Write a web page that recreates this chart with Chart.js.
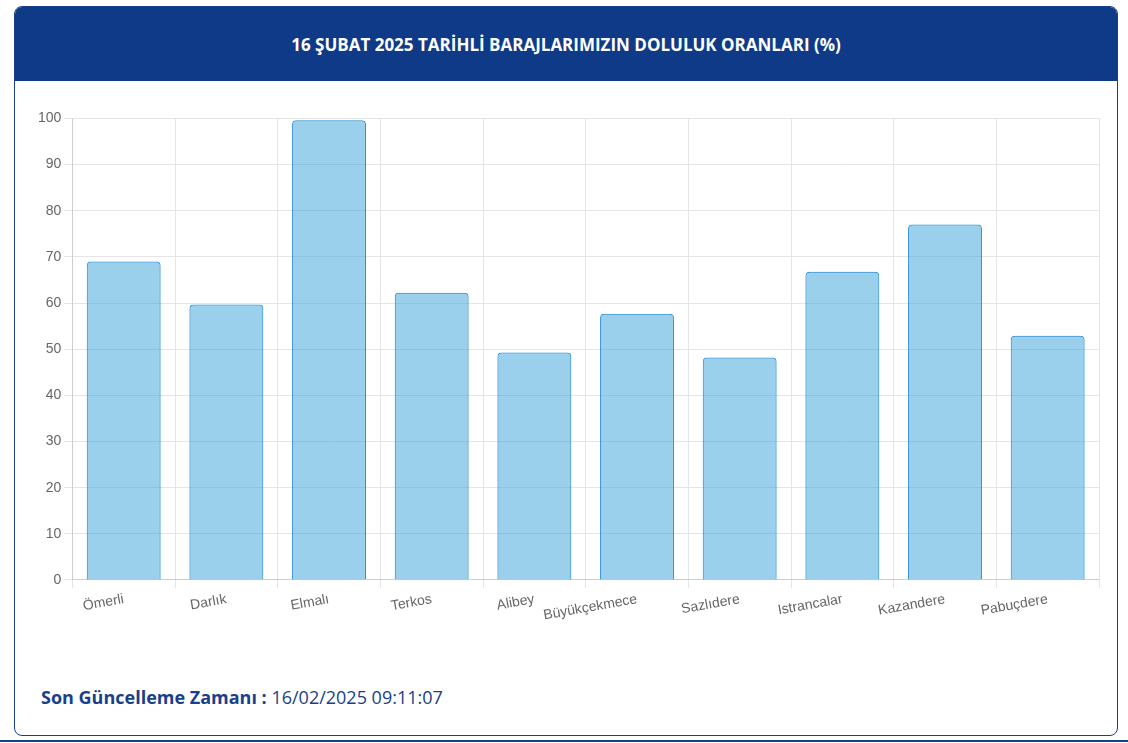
<!DOCTYPE html>
<html><head><meta charset="utf-8">
<script src="https://cdn.jsdelivr.net/npm/chart.js@4"></script>
<style>
body{margin:0;background:#fff;font-family:"Open Sans",Roboto,sans-serif;}
.card{position:absolute;left:14px;top:6px;width:1102px;height:728px;border:1px solid #1a3f8a;border-radius:8px;overflow:hidden;}
.hdr{height:74px;background:#0f3a87;color:#fff;font-weight:700;font-size:17px;display:flex;align-items:center;justify-content:center;}
.cw{position:absolute;left:20px;top:100px;width:1070px;height:520px;}
.ft{position:absolute;left:26px;top:678px;font-size:18px;color:#1a3f8a;}
.ft b{font-weight:700}
.line{position:absolute;left:0;top:740px;width:1128px;height:2px;background:#1a3f8a;}
</style></head><body>
<div class="card"><div class="hdr">16 ŞUBAT 2025 TARİHLİ BARAJLARIMIZIN DOLULUK ORANLARI (%)</div>
<div class="cw"><canvas id="c"></canvas></div>
<div class="ft"><b>Son Güncelleme Zamanı :</b> 16/02/2025 09:11:07</div></div>
<div class="line"></div>
<script>
const categories=["Ömerli","Darlık","Elmalı","Terkos","Alibey","Büyükçekmece","Sazlıdere","Istrancalar","Kazandere","Pabuçdere"];
const values=[69.0,59.7,99.6,62.2,49.3,57.7,48.2,66.8,77.0,52.9];
new Chart(document.getElementById('c'),{type:'bar',
data:{labels:categories,datasets:[{data:values,backgroundColor:'rgba(54,162,218,0.5)',borderColor:'#2a8fd4',borderWidth:1,borderRadius:4,categoryPercentage:0.8,barPercentage:0.9}]},
options:{responsive:true,maintainAspectRatio:false,animation:false,plugins:{legend:{display:false},tooltip:{enabled:false}},
layout:{padding:{top:10,right:6}},
scales:{y:{min:0,max:100,ticks:{stepSize:10,color:'#666',font:{size:14,family:'Liberation Sans'}},grid:{color:'#e5e5e5'}},
x:{ticks:{color:'#666',maxRotation:10,minRotation:10,font:{size:14,family:'Liberation Sans'}},grid:{color:'#e5e5e5'}}}}});
</script></body></html>
